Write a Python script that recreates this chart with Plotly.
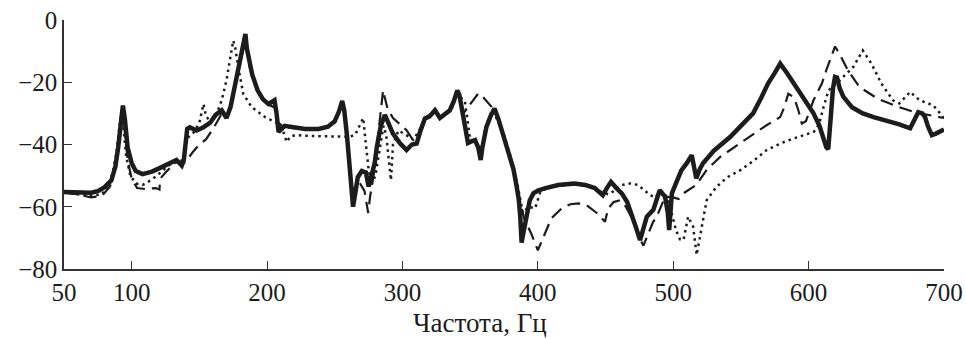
import plotly.graph_objects as go

# ---- data (frequency, Hz / level, dB) ----
solid_hz = [50, 60, 70, 75, 80, 85, 88, 90, 92, 93.5, 95, 97, 100, 103, 108, 115, 121, 128, 133, 137, 138.5, 141, 143, 148, 153, 158, 162, 166.5, 170, 173, 176, 179, 181, 183, 184, 185, 187, 189, 193, 197, 201, 204, 205.5, 207, 208.5, 213, 220, 228, 238, 245, 250, 253, 255.5, 257, 259, 261, 262.5, 263.5, 265, 267, 270, 273, 275, 277, 279.5, 281, 284, 287, 290, 293, 298, 303, 307, 310.5, 313, 316.5, 320, 324, 327.7, 331, 335, 338, 340.5, 342, 345, 348.4, 351, 353.6, 356, 357.8, 359, 362, 365, 368, 371, 374, 377, 379.5, 382, 384.4, 386, 387, 388, 389.5, 391.7, 394, 396.7, 400, 405, 415, 427, 435, 442, 448, 451, 454, 458, 462, 466, 469, 472, 475.5, 478, 480.5, 485.3, 490, 494, 496, 497, 498, 499, 502, 506, 510, 513.7, 515.5, 517, 519.5, 522, 530, 542, 550, 559, 565, 570, 575, 579, 584, 589, 596, 603.6, 608, 613, 614.5, 616, 618, 619.5, 621, 623, 625.7, 632, 640, 648, 657.7, 667, 675, 678, 681, 684, 686, 688, 691, 694, 696, 700]
solid_db = [-55.3, -55.5, -55.5, -55, -53.7, -51.5, -47, -41, -32, -27.5, -32, -41, -46, -48.5, -49.5, -48.7, -47.5, -46, -45, -46.8, -45, -35, -34.5, -35.5, -34.5, -33, -30.5, -29, -31.5, -28, -21.6, -16, -12, -7, -4.5, -9, -14, -17.5, -22.6, -25.5, -27, -26, -25.8, -30, -36, -34, -34.5, -35, -35, -34.3, -32.5, -29.5, -26, -29, -37, -46, -54, -60, -56, -50.5, -48.5, -49, -53.5, -50, -46, -41, -34, -30.5, -34, -36.5, -39.5, -41.8, -40, -39.7, -36, -31.7, -31, -29, -31.5, -30.5, -29, -26, -22.6, -24, -31, -39.5, -39, -38.6, -41, -45, -41, -34.4, -31, -28.4, -32, -36.5, -40, -44, -48, -53.6, -58, -63.2, -71.5, -68, -62, -58, -55.7, -54.8, -54.1, -53, -52.5, -53, -54, -56.3, -54, -52, -54, -55.7, -58.5, -62, -66, -70.7, -67, -63.2, -61, -54.7, -56.8, -62, -67.5, -62, -55.7, -52.5, -48.3, -46, -43.4, -47.5, -50.9, -48, -46, -42, -37.6, -34, -30, -25, -20.4, -17, -14, -17, -20.4, -25, -30, -34, -40.8, -41.5, -33, -22, -18.3, -18.5, -22, -24.7, -28, -30, -31.2, -32.2, -33.5, -34.8, -32, -29.6, -30, -31.2, -34, -37, -36.5, -36, -35.2]

dashed_hz = [50, 60, 70, 78, 84, 87, 90, 92, 93.5, 95, 97, 100, 104, 110, 118, 120.5, 121, 125, 133, 137, 140, 145, 150, 155, 160, 166, 170, 174, 178, 181, 183.5, 185, 187, 190, 194, 200, 205, 208, 213, 225, 240, 250, 255, 258, 261, 264, 268, 272, 274.7, 276, 279, 282, 285.7, 287, 289, 293, 297, 303, 307, 311, 316, 324, 330, 335, 340, 342, 345, 350, 353, 356, 359, 362, 366, 369, 372, 377, 382, 386, 390, 395, 400, 403, 406.5, 410, 417.6, 424, 430, 436, 443.5, 449.6, 452, 456, 460.7, 465, 470, 475, 478, 481.6, 485, 487.8, 494, 500, 504, 507.5, 517, 525, 534.7, 549, 560, 569, 579, 582, 585, 588, 590, 592.4, 595, 598, 603.6, 609.8, 613, 618, 619.5, 623, 629, 637.5, 651, 667, 678, 689.7, 700]
dashed_db = [-55.5, -56, -57, -56.5, -53.5, -49, -42, -34, -29.5, -36, -45, -51, -54, -54.3, -54, -54.5, -51, -49, -45.5, -46.5, -45.5, -42.5, -40, -38.3, -35, -30.5, -31.5, -26, -18, -12, -7, -10, -15, -19, -23.5, -27, -28, -33, -34.5, -35, -35, -33, -27, -33, -48, -57, -52, -55, -62, -57, -49, -37, -22.6, -25, -28.5, -31.5, -33, -35.4, -38, -38, -31.5, -29.5, -30.5, -29, -23.5, -24.5, -30, -27, -25.5, -23.6, -24.5, -26, -28, -29.5, -33, -40, -48, -57, -64, -68.5, -74, -71, -67.5, -63.7, -60.5, -59.2, -58.9, -59.5, -62, -64.8, -60.5, -58.5, -57.9, -60, -64, -70, -72.5, -68.5, -65, -63.2, -56.8, -57, -57.5, -55.7, -53, -48, -44, -39.7, -36.5, -33.8, -31.2, -28, -23.7, -24.5, -25.8, -29, -33.3, -32.5, -25.8, -20.4, -16.2, -9.8, -8.5, -11, -16.2, -21.5, -25.3, -28, -29.6, -30.6, -31.5]

dotted_hz = [50, 60, 70, 78, 83, 86, 89, 91, 92.5, 94, 96, 99, 103, 108, 114, 120, 128, 134, 138, 141, 146, 150, 153, 155, 158, 162, 166.5, 170, 173, 175, 176.5, 178.7, 182.4, 188.6, 198.5, 208.3, 212, 214.5, 217, 220.6, 235, 250, 255, 260, 265, 268, 271, 273, 274.8, 277, 280, 283, 286, 288, 290, 291.5, 293, 297, 303, 308, 313, 317, 324, 330, 336, 340, 343, 346, 348, 350, 354, 357.8, 361, 366, 370, 375, 380, 385, 389, 393, 398, 402, 410, 427, 440, 448, 452, 456, 462, 468, 474, 479, 483, 487, 490, 494, 497, 500, 502, 505, 507.6, 511, 514.7, 517.3, 521, 524.7, 532, 540, 549.3, 560, 569, 580, 588.7, 596, 603.5, 606, 608.5, 611, 614.7, 623, 633, 640, 646.4, 653.7, 662.3, 667, 671, 675, 682, 692, 699.5]
dotted_db = [-55.5, -56, -56.5, -56, -53, -49, -42, -34, -29, -35, -44, -50, -52.5, -53, -51.5, -49.5, -46.5, -45.5, -45, -38, -36, -33, -27, -31, -32.5, -31, -25.8, -19.4, -12, -6.6, -9, -15.1, -23.7, -28, -31.2, -33.3, -36, -39.2, -37.5, -37, -37.3, -37.5, -37.6, -37.5, -37, -34, -31.5, -40, -47.2, -53, -50, -42, -34, -37, -45, -51.5, -40, -35.5, -37, -38.5, -35, -31.5, -30, -31, -29, -24, -25, -25.8, -32, -38.6, -39, -43, -35, -29, -32, -37, -44, -53, -62, -60, -60.5, -55, -53.5, -52.8, -53.5, -55.5, -56, -55, -53, -52.5, -53, -55, -56.3, -57, -55, -56, -59, -64, -67.5, -70.5, -70.7, -63.2, -66.4, -75.5, -66.4, -57.9, -53.6, -50.5, -48.3, -45, -41.8, -39.5, -38.1, -37, -36, -35, -32.2, -28, -22.6, -19.4, -15.1, -9.8, -14, -20.4, -25.8, -26.8, -25, -23.1, -25.8, -27.4, -31.2]

x_ticks = [50, 100, 200, 300, 400, 500, 600, 700]
y_ticks = [0, -20, -40, -60, -80]
x_title = "Частота, Гц"

ink = "#1c1c1c"
font_family = "'Liberation Serif', 'Times New Roman', Times, serif"

fig = go.Figure()
fig.add_trace(go.Scatter(x=dotted_hz, y=dotted_db, mode="lines",
                         line=dict(color=ink, width=2.5, dash="2.5px,4px"),
                         showlegend=False, hoverinfo="skip"))
fig.add_trace(go.Scatter(x=dashed_hz, y=dashed_db, mode="lines",
                         line=dict(color=ink, width=2.2, dash="13px,7px"),
                         showlegend=False, hoverinfo="skip"))
fig.add_trace(go.Scatter(x=solid_hz, y=solid_db, mode="lines",
                         line=dict(color=ink, width=4.5),
                         showlegend=False, hoverinfo="skip"))

axis_common = dict(showgrid=False, zeroline=False, showline=True, automargin=False,
                   linecolor="#333333", linewidth=1.5, ticks="inside",
                   ticklen=8, tickwidth=1.2, tickcolor="#333333",
                   tickfont=dict(family=font_family, size=25, color=ink))

fig.update_xaxes(range=[50, 700], tickvals=x_ticks,
                 ticktext=[str(v) for v in x_ticks], **axis_common)
fig.update_yaxes(range=[-80, 0], tickvals=y_ticks,
                 ticktext=[("−" + str(-v)) if v < 0 else str(v) for v in y_ticks],
                 **axis_common)

fig.add_annotation(text=x_title, xref="paper", yref="paper", x=0.473, y=-0.215,
                   xanchor="center", yanchor="middle", showarrow=False,
                   font=dict(family=font_family, size=27, color=ink))

fig.update_layout(width=966, height=339, plot_bgcolor="white", paper_bgcolor="white",
                  margin=dict(l=64, r=22, t=20, b=70))

fig.write_html("out.html", config={"displayModeBar": False},
               post_script="document.body.style.margin='0';document.body.style.overflow='hidden';")
